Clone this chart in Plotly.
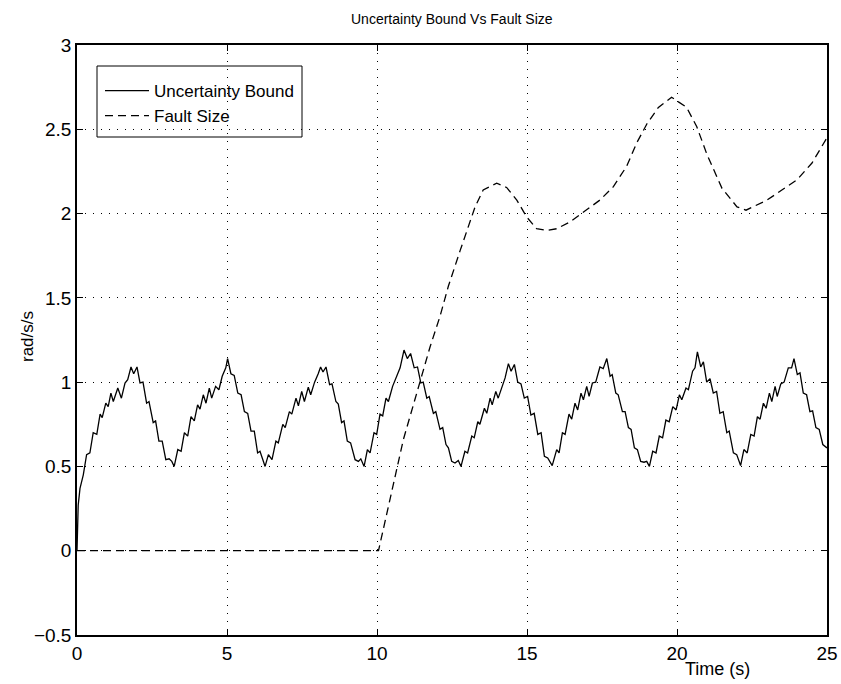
import plotly.graph_objects as go

# ---- Uncertainty bound ----
ub_t = [0, 0.04, 0.1, 0.21, 0.32, 0.43, 0.54, 0.66, 0.77, 0.84, 0.96, 1.04, 1.13, 1.21, 1.36, 1.48, 1.6, 1.69, 1.8, 1.89,
        2.0, 2.1, 2.2, 2.32, 2.4, 2.54, 2.62, 2.73, 2.84, 2.96, 3.07, 3.16, 3.24, 3.36, 3.47, 3.58, 3.69, 3.8, 3.91,
        4.02, 4.1, 4.21, 4.3, 4.41, 4.49, 4.62, 4.73, 4.84, 4.96, 5.02, 5.13, 5.24, 5.36, 5.47, 5.58, 5.69, 5.8, 5.91,
        6.02, 6.1, 6.27, 6.38, 6.5, 6.63, 6.71, 6.86, 6.94, 7.08, 7.16, 7.3, 7.38, 7.49, 7.58, 7.71, 7.79, 7.92,
        8.04, 8.12, 8.2, 8.3, 8.42, 8.5, 8.63, 8.71, 8.82, 8.9, 9.01, 9.12, 9.27, 9.38, 9.46, 9.57, 9.68, 9.77, 9.9,
        9.99, 10.1, 10.19, 10.3, 10.38, 10.52, 10.66, 10.77, 10.9, 11.01, 11.12, 11.24, 11.35, 11.46, 11.54, 11.66,
        11.74, 11.88, 11.96, 12.1, 12.19, 12.3, 12.38, 12.49, 12.6, 12.71, 12.8, 12.93, 13.02, 13.16, 13.24, 13.36,
        13.43, 13.58, 13.66, 13.77, 13.84, 13.96, 14.04, 14.18, 14.27, 14.38, 14.47, 14.58, 14.69, 14.8, 14.91,
        15.02, 15.13, 15.24, 15.36, 15.47, 15.58, 15.69, 15.77, 15.84, 15.99, 16.07, 16.18, 16.27, 16.4, 16.49,
        16.6, 16.69, 16.8, 16.88, 16.99, 17.07, 17.18, 17.29, 17.43, 17.54, 17.66, 17.77, 17.84, 17.96, 18.04,
        18.18, 18.27, 18.38, 18.47, 18.58, 18.68, 18.79, 18.9, 18.99, 19.08, 19.19, 19.3, 19.41, 19.52, 19.63,
        19.74, 19.86, 19.97, 20.08, 20.16, 20.3, 20.38, 20.52, 20.6, 20.68, 20.79, 20.88, 20.99, 21.1, 21.21,
        21.32, 21.43, 21.54, 21.66, 21.74, 21.88, 21.99, 22.12, 22.23, 22.34, 22.46, 22.57, 22.68, 22.77, 22.88,
        22.97, 23.08, 23.16, 23.27, 23.34, 23.46, 23.57, 23.71, 23.82, 23.9, 24.01, 24.1, 24.21, 24.32, 24.43,
        24.52, 24.63, 24.74, 24.86, 25.0]
ub_y = [0, 0.27, 0.37, 0.45, 0.57, 0.58, 0.70, 0.69, 0.81, 0.79, 0.875, 0.855, 0.935, 0.885, 0.965, 0.905, 0.995, 1.015, 1.09, 1.05,
        1.09, 0.995, 1.0, 0.875, 0.885, 0.76, 0.77, 0.65, 0.65, 0.54, 0.545, 0.53, 0.5, 0.6, 0.59, 0.70, 0.68, 0.795, 0.77,
        0.865, 0.84, 0.925, 0.875, 0.965, 0.905, 0.975, 0.955, 1.035, 1.085, 1.14, 1.05, 1.04, 0.935, 0.925, 0.825, 0.815, 0.71, 0.71,
        0.58, 0.59, 0.5, 0.57, 0.54, 0.65, 0.64, 0.75, 0.73, 0.825, 0.81, 0.905, 0.86, 0.945, 0.885, 0.97, 0.925, 1.0,
        1.05, 1.09, 1.06, 1.09, 0.985, 0.99, 0.885, 0.87, 0.76, 0.77, 0.65, 0.64, 0.54, 0.53, 0.545, 0.5, 0.60, 0.58, 0.70,
        0.69, 0.81, 0.80, 0.905, 0.885, 0.975, 1.035, 1.085, 1.19, 1.14, 1.17, 1.085, 1.09, 0.995, 1.0, 0.905,
        0.915, 0.815, 0.825, 0.72, 0.73, 0.63, 0.61, 0.53, 0.52, 0.535, 0.5, 0.59, 0.58, 0.68, 0.67, 0.765,
        0.75, 0.845, 0.815, 0.905, 0.865, 0.945, 0.905, 0.985, 1.025, 1.11, 1.065, 1.105, 1.0, 0.99, 0.905,
        0.915, 0.805, 0.815, 0.69, 0.70, 0.56, 0.55, 0.53, 0.505, 0.60, 0.58, 0.70, 0.69, 0.81, 0.78,
        0.875, 0.835, 0.935, 0.895, 0.975, 0.915, 0.995, 1.0, 1.09, 1.08, 1.14, 1.035, 1.045, 0.935, 0.925,
        0.825, 0.825, 0.73, 0.72, 0.61, 0.60, 0.53, 0.525, 0.53, 0.5, 0.59, 0.58, 0.68, 0.67, 0.775,
        0.765, 0.855, 0.835, 0.925, 0.895, 0.965, 0.955, 1.065, 1.085, 1.18, 1.09, 1.12, 1.0, 1.02, 0.935,
        0.945, 0.815, 0.825, 0.70, 0.71, 0.58, 0.57, 0.505, 0.60, 0.58, 0.69, 0.68, 0.795, 0.78, 0.875,
        0.845, 0.935, 0.885, 0.975, 0.915, 0.99, 1.0, 1.085, 1.085, 1.14, 1.045, 1.055, 0.935, 0.925, 0.825,
        0.83, 0.73, 0.72, 0.63, 0.61]

# ---- Fault size ----
fs_t = [0, 10.05, 10.88, 11.1, 11.43, 11.77, 12.1, 12.38, 12.77, 13.04, 13.27, 13.54, 13.99, 14.32, 14.66, 14.99,
        15.32, 15.66, 15.99, 16.43, 16.99, 17.43, 17.88, 18.32, 18.66, 18.99, 19.38, 19.82, 20.32, 20.66, 21.0,
        21.5, 22.0, 22.3, 23.0, 24.0, 24.5, 25.0]
fs_y = [0, 0, 0.66, 0.80, 0.995, 1.21, 1.39, 1.57, 1.78, 1.92, 2.04, 2.14, 2.18, 2.155, 2.08, 1.98,
        1.91, 1.90, 1.91, 1.95, 2.02, 2.08, 2.16, 2.28, 2.42, 2.53, 2.63, 2.69, 2.63, 2.515, 2.35,
        2.15, 2.04, 2.02, 2.08, 2.2, 2.3, 2.45]

title_text = "Uncertainty Bound Vs Fault Size"
xlabel = "Time (s)"
ylabel = "rad/s/s"
series_names = ["Uncertainty Bound", "Fault Size"]

FONT = "Liberation Sans, Arial, Helvetica, sans-serif"
TITLE_FONT = "Liberation Sans Narrow, Arial Narrow, Liberation Sans, sans-serif"

# layout in pixels
L, R, T, B = 77, 14, 45, 49


def px_x(px):
    return (px - L) / 750.0


def px_y(py):
    return (635 - py) / 590.0


fig = go.Figure()
fig.add_trace(go.Scatter(x=ub_t, y=ub_y, mode="lines", name=series_names[0],
                         line=dict(color="black", width=1.3)))
fig.add_trace(go.Scatter(x=fs_t, y=fs_y, mode="lines", name=series_names[1],
                         line=dict(color="black", width=1.3, dash="8px,5px")))

axis_common = dict(showline=True, linecolor="black", linewidth=1.5, mirror="ticks",
                   ticks="inside", ticklen=6, tickcolor="black", tickwidth=1.2,
                   showgrid=True, gridcolor="black", gridwidth=1, griddash="1px,7px",
                   zeroline=False, automargin=False, ticklabeloverflow="allow",
                   tickfont=dict(family=FONT, size=19, color="black"))

fig.update_xaxes(range=[0, 25], dtick=5, tick0=0, **axis_common)
fig.update_yaxes(range=[-0.5, 3], dtick=0.5, tick0=0, **axis_common)

fig.update_layout(
    width=841, height=684,
    margin=dict(l=L, r=R, t=T, b=B),
    paper_bgcolor="white", plot_bgcolor="white",
    font=dict(family=FONT, color="black"),
    showlegend=True,
    legend=dict(x=px_x(100), y=px_y(73), xanchor="left", yanchor="top",
                bgcolor="rgba(0,0,0,0)", borderwidth=0, itemwidth=44,
                font=dict(family=FONT, size=17, color="black")),
    shapes=[dict(type="rect", xref="paper", yref="paper",
                 x0=px_x(97), x1=px_x(302), y0=px_y(137), y1=px_y(66),
                 line=dict(color="black", width=1), fillcolor="white", layer="below")],
    annotations=[
        dict(text=title_text, xref="paper", yref="paper", x=px_x(452), y=px_y(19),
             xanchor="center", yanchor="middle", showarrow=False,
             font=dict(family=TITLE_FONT, size=14, color="black")),
        dict(text=xlabel, xref="paper", yref="paper", x=px_x(717), y=px_y(669),
             xanchor="center", yanchor="middle", showarrow=False,
             font=dict(family=FONT, size=18, color="black")),
        dict(text=ylabel, xref="paper", yref="paper", x=px_x(27), y=px_y(337),
             xanchor="center", yanchor="middle", showarrow=False, textangle=-90,
             font=dict(family=FONT, size=17, color="black")),
    ],
)

fig.write_html("out.html")
